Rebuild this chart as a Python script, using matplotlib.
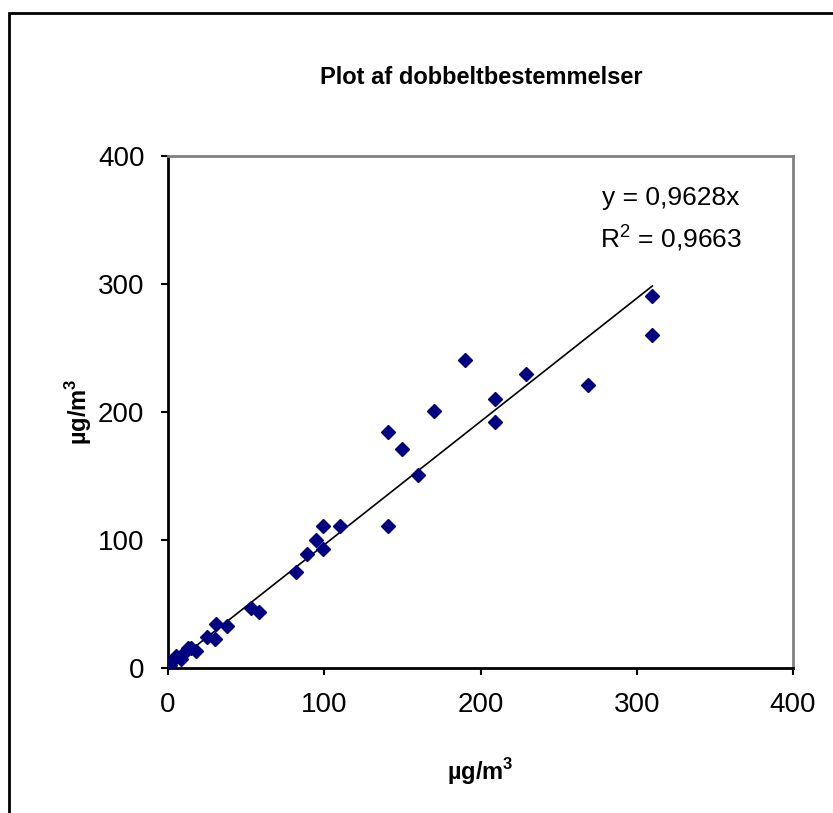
import matplotlib
matplotlib.use("Agg")
import matplotlib.pyplot as plt
from matplotlib.patches import Rectangle
import numpy as np

plt.rcParams['font.family'] = ['Liberation Sans', 'DejaVu Sans']
plt.rcParams['mathtext.fontset'] = 'custom'
plt.rcParams['mathtext.rm'] = 'Liberation Sans'
plt.rcParams['mathtext.bf'] = 'Liberation Sans:bold'

# duplicate determinations (first vs second), ug/m3
first = [1, 3, 5, 8, 10, 13, 15, 18, 25, 30, 31, 38, 53, 58, 82, 89, 95, 99,
         99, 110, 141, 141, 150, 160, 170, 190, 209, 209, 229, 269, 310, 310]
second = [2, 6, 9, 7, 12, 16, 16, 13, 24, 23, 34, 33, 47, 44, 75, 89, 100, 93,
          111, 111, 111, 184, 171, 151, 201, 241, 210, 192, 230, 221, 291, 260]
slope = 0.9628
r2 = 0.9663
ticks = [0, 100, 200, 300, 400]

fig = plt.figure(figsize=(8.33, 8.13), dpi=100)
# outer chart frame (runs off the right and bottom edge)
fig.patches.append(Rectangle((9 / 833, -0.2), 1.2, 0.2 + 1 - 13 / 813,
                             transform=fig.transFigure, fill=False,
                             edgecolor='black', linewidth=2))

ax = fig.add_axes([168 / 833, 1 - 668 / 813, 625 / 833, 512 / 813])
ax.set_xlim(0, 400)
ax.set_ylim(0, 400)

xs = np.array([0, max(first)])
ax.plot(xs, slope * xs, color='black', linewidth=1.2, zorder=2)
ax.plot(first, second, linestyle='none', marker='D', markersize=7,
        color='#000080', zorder=3)

for side in ['top', 'right']:
    ax.spines[side].set_color('#808080')
    ax.spines[side].set_linewidth(2)
for side in ['left', 'bottom']:
    ax.spines[side].set_color('black')
    ax.spines[side].set_linewidth(2)

ax.set_xticks(ticks)
ax.set_yticks(ticks)
ax.tick_params(direction='out', length=5, width=1.5, labelsize=20, pad=12)

unit = r'$\mathbf{\mu g/m^3}$'
unit = 'µg/m$^{\\mathbf{3}}$'
ax.set_xlabel(unit, fontsize=17, fontweight='bold', labelpad=28)
ax.set_ylabel(unit, fontsize=17, fontweight='bold', labelpad=3)

fig.text(481 / 833, 1 - 77 / 813, 'Plot af dobbeltbestemmelser',
         ha='center', va='center', fontsize=17, fontweight='bold')

ax.text(0.805, 0.918, 'y = %s' % str(slope).replace('.', ',') + 'x',
        transform=ax.transAxes, ha='center', va='center', fontsize=19)
ax.text(0.805, 0.84, 'R$^2$ = %s' % str(r2).replace('.', ','),
        transform=ax.transAxes, ha='center', va='center', fontsize=19)

fig.savefig('out.png', dpi=100)
